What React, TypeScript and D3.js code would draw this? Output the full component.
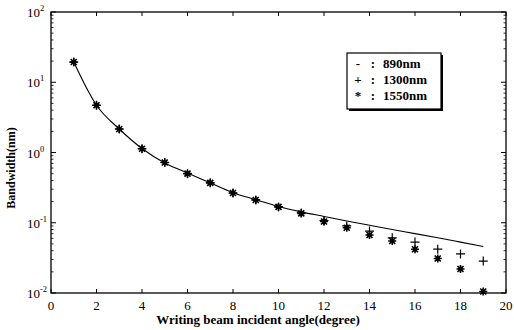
import React from "react";
import * as d3 from "d3";

// angles in degree
const angles = [1, 2, 3, 4, 5, 6, 7, 8, 9, 10, 11, 12, 13, 14, 15, 16, 17, 18, 19];
// 890nm (solid curve)
const bw890 = [19.4, 4.7, 2.16, 1.14, 0.71, 0.51, 0.37, 0.268, 0.213, 0.17, 0.143, 0.123, 0.106, 0.092, 0.08, 0.07, 0.061, 0.053, 0.046];
// 1300nm (+)
const bw1300 = [19.4, 4.7, 2.16, 1.13, 0.72, 0.5, 0.37, 0.265, 0.211, 0.168, 0.138, 0.107, 0.09, 0.076, 0.061, 0.053, 0.042, 0.036, 0.0285];
// 1550nm (*)
const bw1550 = [19.4, 4.7, 2.16, 1.13, 0.72, 0.5, 0.37, 0.265, 0.211, 0.168, 0.136, 0.104, 0.085, 0.067, 0.055, 0.042, 0.031, 0.022, 0.0105];

const xTicks = [0, 2, 4, 6, 8, 10, 12, 14, 16, 18, 20];
const yExps = [-2, -1, 0, 1, 2];
const legendItems = [
  { mark: "-", label: "890nm" },
  { mark: "+", label: "1300nm" },
  { mark: "*", label: "1550nm" },
];

const W = 514;
const H = 330;
const L = 51, R = 506, T = 12, B = 293;
const font = "'Liberation Serif', 'DejaVu Serif', serif";

export default function App() {
  const x = d3.scaleLinear().domain([0, 20]).range([L, R]);
  const y = d3.scaleLog().domain([0.01, 100]).range([B, T]);

  const line = d3
    .line<number>()
    .x((_, i) => x(angles[i]))
    .y((d) => y(d))
    .curve(d3.curveMonotoneX);

  const minor: number[] = [];
  for (let e = -2; e < 2; e++) {
    for (let m = 2; m <= 9; m++) minor.push(m * Math.pow(10, e));
  }

  const plus = (cx: number, cy: number, k: number) => (
    <path
      key={"p" + k}
      d={`M${cx - 4.5},${cy}H${cx + 4.5}M${cx},${cy - 4.5}V${cy + 4.5}`}
      stroke="#000"
      strokeWidth={1.2}
      fill="none"
    />
  );
  const star = (cx: number, cy: number, k: number) => (
    <g key={"s" + k}>
      <path
        d={`M${cx - 4},${cy}H${cx + 4}M${cx},${cy - 4}V${cy + 4}M${cx - 3},${cy - 3}L${cx + 3},${cy + 3}M${cx - 3},${cy + 3}L${cx + 3},${cy - 3}`}
        stroke="#000"
        strokeWidth={1.6}
        fill="none"
      />
      <circle cx={cx} cy={cy} r={2.3} fill="#000" />
    </g>
  );

  return (
    <svg width={W} height={H} style={{ position: "absolute", left: 0, top: 0, background: "#fff" }}>
      <rect x={0} y={0} width={W} height={H} fill="#fff" />
      {/* frame */}
      <rect x={L} y={T} width={R - L} height={B - T} fill="none" stroke="#000" strokeWidth={1.3} />

      {/* x ticks, top and bottom */}
      {xTicks.map((t) => (
        <g key={"xt" + t}>
          <line x1={x(t)} x2={x(t)} y1={B} y2={B - 4} stroke="#000" />
          <line x1={x(t)} x2={x(t)} y1={T} y2={T + 4} stroke="#000" />
          <text x={x(t)} y={310} textAnchor="middle" fontFamily={font} fontSize={13}>
            {t}
          </text>
        </g>
      ))}

      {/* y ticks */}
      {yExps.map((e) => (
        <g key={"ye" + e}>
          <line x1={L} x2={L + 5} y1={y(Math.pow(10, e))} y2={y(Math.pow(10, e))} stroke="#000" />
          <line x1={R} x2={R - 5} y1={y(Math.pow(10, e))} y2={y(Math.pow(10, e))} stroke="#000" />
          <text x={27} y={y(Math.pow(10, e)) + 5} fontFamily={font} fontSize={13}>
            10
            <tspan fontSize={8.5} dy={-6}>
              {e < 0 ? "-" + -e : e}
            </tspan>
          </text>
        </g>
      ))}
      {minor.map((v, i) => (
        <g key={"ym" + i}>
          <line x1={L} x2={L + 2.5} y1={y(v)} y2={y(v)} stroke="#000" strokeWidth={0.8} />
          <line x1={R} x2={R - 2.5} y1={y(v)} y2={y(v)} stroke="#000" strokeWidth={0.8} />
        </g>
      ))}

      {/* 890nm curve */}
      <path d={line(bw890) || ""} fill="none" stroke="#000" strokeWidth={1.1} />

      {bw1550.map((v, i) => star(x(angles[i]), y(v), i))}
      {bw1300.map((v, i) => plus(x(angles[i]), y(v), i))}

      {/* axis titles */}
      <text x={258} y={324} textAnchor="middle" fontFamily={font} fontSize={13} fontWeight="bold">
        Writing beam incident angle(degree)
      </text>
      <text
        transform="translate(15,168) rotate(-90)"
        textAnchor="middle"
        fontFamily={font}
        fontSize={12}
        fontWeight="bold"
      >
        Bandwidth(nm)
      </text>

      {/* legend */}
      <rect x={349} y={55} width={94} height={56} fill="#000" />
      <rect x={347} y={53} width={94} height={56} fill="#fff" stroke="#000" strokeWidth={1.2} />
      {legendItems.map((d, i) => (
        <g key={"lg" + i} fontFamily={font} fontSize={13} fontWeight="bold">
          <text x={358} y={68 + i * 16} textAnchor="middle">
            {d.mark}
          </text>
          <text x={373} y={68 + i * 16} textAnchor="middle">
            :
          </text>
          <text x={383} y={68 + i * 16}>
            {d.label}
          </text>
        </g>
      ))}
    </svg>
  );
}
